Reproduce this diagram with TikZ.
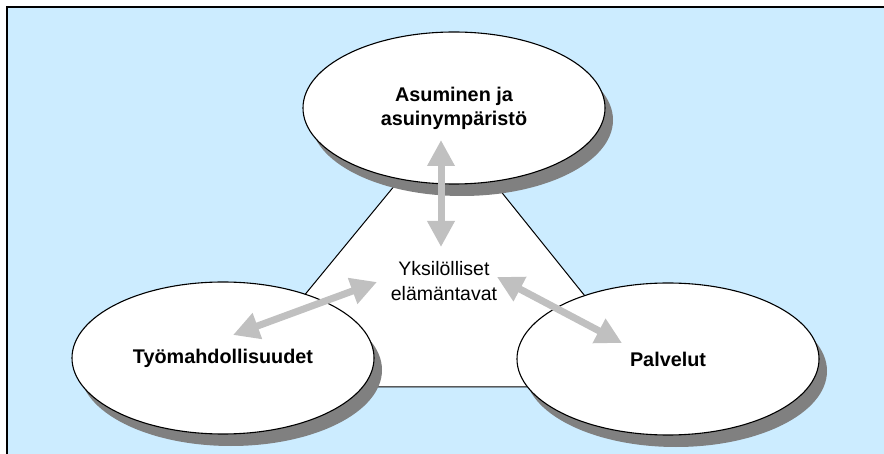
\documentclass[tikz,border=0pt]{standalone}
\usepackage{fontspec}
\setmainfont{Liberation Sans}
\usetikzlibrary{shapes.geometric,shadows,arrows.meta}
\definecolor{bgblue}{HTML}{CCECFF}
\definecolor{shadowgray}{HTML}{808080}
\definecolor{arrowgray}{HTML}{C0C0C0}
\begin{document}
\begin{tikzpicture}[x=1pt,y=-1pt,
  topic/.style={ellipse, draw=black, line width=1.1pt, fill=white,
    minimum width=302pt, minimum height=152pt, inner sep=0pt, align=center,
    font=\fontsize{19.8}{24}\selectfont\bfseries,
    drop shadow={shadow xshift=8pt, shadow yshift=-12pt, fill=shadowgray, opacity=1}},
  link/.style={arrowgray, line width=7pt,
    {Triangle[width=26pt,length=26pt]}-{Triangle[width=26pt,length=26pt]}}]
\useasboundingbox (0,0) rectangle (884,454);
\fill[white] (0,0) rectangle (884,454);
\fill[bgblue] (7,7) rectangle (884,454);
\draw[line width=2.2pt, black] (7,454) -- (7,7) -- (884,7);
% triangle
\coordinate (apex) at (446,123);
\coordinate (bl) at (229,387);
\coordinate (br) at (658,387);
\draw[fill=white, line width=1pt] (apex) -- (bl) -- (br) -- cycle;
% ellipses
\node[topic] (asu) at (454,108) {Asuminen ja\\asuinympäristö};
\node[topic] (tyo) at (223,358) {Työmahdollisuudet};
\node[topic] (pal) at (668,359) {Palvelut};
% centre text
\node[font=\fontsize{19.5}{25}\selectfont, align=center] (yks) at (444,281) {Yksilölliset\\elämäntavat};
% arrow ends
\coordinate (a1) at (441,140);
\coordinate (a2) at (441,247);
\coordinate (b1) at (377,282);
\coordinate (b2) at (233,335);
\coordinate (c1) at (497,277);
\coordinate (c2) at (622,343);
\draw[link] (a1) -- (a2);
\draw[link] (b1) -- (b2);
\draw[link] (c1) -- (c2);
\end{tikzpicture}
\end{document}
